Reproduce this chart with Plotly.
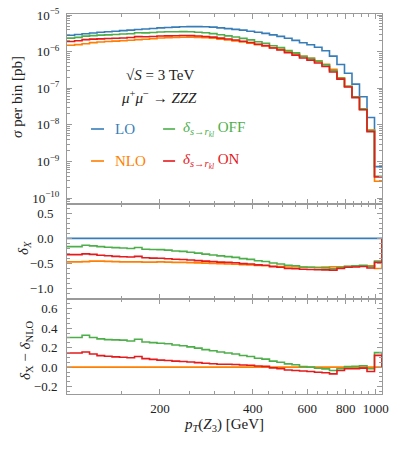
import plotly.graph_objects as go
from plotly.subplots import make_subplots

# pT(Z3) bin edges [GeV]
edges = [100.0, 105.8, 111.9, 118.3, 125.1, 132.3, 139.9, 148.0, 156.5, 165.5,
         175.0, 185.1, 195.7, 207.0, 218.9, 231.5, 244.8, 258.9, 273.8, 289.5,
         306.2, 323.8, 342.4, 362.1, 382.9, 405.0, 428.3, 452.9, 479.0, 506.5,
         535.8, 566.6, 599.2, 633.7, 670.1, 708.7, 749.4, 792.6, 838.2, 886.4,
         937.6, 991.5, 1048.6]

# LO cross section per bin [pb]
sigma_lo = [2.82e-6, 2.95e-6, 3.09e-6, 3.24e-6, 3.39e-6, 3.51e-6, 3.63e-6, 3.76e-6,
            3.89e-6, 4.03e-6, 4.17e-6, 4.32e-6, 4.47e-6, 4.57e-6, 4.68e-6, 4.79e-6,
            4.84e-6, 4.84e-6, 4.79e-6, 4.68e-6, 4.47e-6, 4.27e-6, 4.07e-6, 3.89e-6,
            3.63e-6, 3.39e-6, 3.16e-6, 2.88e-6, 2.63e-6, 2.34e-6, 2.04e-6, 1.75e-6,
            1.55e-6, 1.32e-6, 1.06e-6, 7.59e-7, 4.47e-7, 2.57e-7, 1.30e-7, 5.89e-8,
            1.60e-8, 7.24e-10]

# relative NLO correction delta_NLO
delta_nlo = [-0.470, -0.470, -0.465, -0.455, -0.455, -0.460, -0.465, -0.470, -0.470, -0.470,
             -0.475, -0.475, -0.470, -0.475, -0.480, -0.480, -0.485, -0.490, -0.495, -0.500,
             -0.505, -0.510, -0.515, -0.525, -0.530, -0.540, -0.545, -0.555, -0.560, -0.570,
             -0.570, -0.575, -0.575, -0.575, -0.570, -0.565, -0.565, -0.560, -0.555, -0.550,
             -0.545, -0.600]

# delta_X - delta_NLO for s->r_kl OFF / ON
diff_off = [0.305, 0.305, 0.328, 0.305, 0.290, 0.283, 0.280, 0.277, 0.268, 0.287,
            0.258, 0.252, 0.245, 0.240, 0.228, 0.220, 0.208, 0.195, 0.180, 0.168,
            0.156, 0.145, 0.135, 0.120, 0.110, 0.092, 0.082, 0.062, 0.050, 0.033,
            0.025, 0.005, 0.000, -0.012, -0.018, -0.035, -0.017, 0.005, 0.008, 0.015,
            -0.017, 0.149]
diff_on = [0.145, 0.145, 0.156, 0.135, 0.118, 0.112, 0.105, 0.102, 0.097, 0.110,
           0.087, 0.080, 0.072, 0.068, 0.062, 0.058, 0.052, 0.046, 0.040, 0.035,
           0.030, 0.030, 0.027, 0.022, 0.020, 0.012, 0.008, -0.008, -0.015, -0.030,
           -0.035, -0.040, -0.045, -0.052, -0.058, -0.069, -0.035, -0.017, -0.017, -0.010,
           -0.045, 0.121]

C_LO, C_NLO, C_OFF, C_ON = '#377eb8', '#ff7f00', '#4daf4a', '#e41a1c'
FONT = 'Liberation Serif, Times New Roman, DejaVu Serif, serif'
GRAY = '#9a9a9a'

delta_off = [a + b for a, b in zip(delta_nlo, diff_off)]
delta_on = [a + b for a, b in zip(delta_nlo, diff_on)]
sig_nlo = [s * (1 + d) for s, d in zip(sigma_lo, delta_nlo)]
sig_off = [s * (1 + d) for s, d in zip(sigma_lo, delta_off)]
sig_on = [s * (1 + d) for s, d in zip(sigma_lo, delta_on)]


def step(vals, close=False):
    x = list(edges)
    y = list(vals) + [vals[-1]]
    if close:
        x.append(edges[-1])
        y.append(0.0)
    return x, y


fig = make_subplots(rows=3, cols=1, shared_xaxes=True, vertical_spacing=0,
                    row_heights=[0.5, 0.25, 0.25])

# top panel
for vals, c in [(sigma_lo, C_LO), (sig_nlo, C_NLO), (sig_off, C_OFF), (sig_on, C_ON)]:
    x, y = step(vals)
    fig.add_trace(go.Scatter(x=x, y=y, mode='lines', line=dict(color=c, width=1.6, shape='hv'),
                             showlegend=False), row=1, col=1)

# middle panel
zeros = [0.0] * len(sigma_lo)
for vals, c in [(zeros, C_LO), (delta_nlo, C_NLO), (delta_off, C_OFF), (delta_on, C_ON)]:
    x, y = step(vals, close=True)
    fig.add_trace(go.Scatter(x=x, y=y, mode='lines', line=dict(color=c, width=1.6, shape='hv'),
                             showlegend=False), row=2, col=1)

# bottom panel
for vals, c in [(zeros, C_NLO), (diff_off, C_OFF), (diff_on, C_ON)]:
    x, y = step(vals, close=True)
    fig.add_trace(go.Scatter(x=x, y=y, mode='lines', line=dict(color=c, width=1.6, shape='hv'),
                             showlegend=False), row=3, col=1)

tickfont = dict(family=FONT, size=13, color='#222')
x_minor = [v for v in range(100, 1050, 50) if v % 200 != 0]
fig.update_xaxes(type='log', range=[2, 3.0206], showline=True, linecolor=GRAY, linewidth=1,
                 mirror='allticks', ticks='inside', ticklen=5, tickcolor=GRAY, automargin=False,
                 tickvals=[200, 400, 600, 800, 1000], ticktext=['200', '400', '600', '800', '1000'],
                 minor=dict(tickvals=x_minor, ticks='inside', ticklen=3, tickcolor=GRAY),
                 showgrid=False, zeroline=False, tickfont=tickfont, ticklabelstandoff=2,
                 ticklabeloverflow='allow')
fig.update_xaxes(showticklabels=False, row=1, col=1)
fig.update_xaxes(showticklabels=False, row=2, col=1)

y_minor_log = [m * 10.0 ** e for e in range(-11, -4) for m in range(2, 10)]
fig.update_yaxes(type='log', range=[-10.16, -4.97],
                 tickvals=[1e-10, 1e-9, 1e-8, 1e-7, 1e-6, 1e-5],
                 ticktext=['10<sup>−10</sup>', '10<sup>−9</sup>', '10<sup>−8</sup>',
                           '10<sup>−7</sup>', '10<sup>−6</sup>', '10<sup>−5</sup>'],
                 minor=dict(tickvals=y_minor_log, ticks='inside', ticklen=3, tickcolor=GRAY),
                 ticklabelstandoff=4, row=1, col=1)
fig.update_yaxes(range=[-1.21, 0.686], tickvals=[-1.0, -0.5, 0.0, 0.5], tickformat='.1f',
                 minor=dict(dtick=0.1, ticks='inside', ticklen=3, tickcolor=GRAY),
                 ticklabelstandoff=10, row=2, col=1)
fig.update_yaxes(range=[-0.276, 0.70], tickvals=[-0.2, 0.0, 0.2, 0.4, 0.6], tickformat='.1f',
                 minor=dict(dtick=0.05, ticks='inside', ticklen=3, tickcolor=GRAY),
                 ticklabelstandoff=6, row=3, col=1)
fig.update_yaxes(showline=True, linecolor=GRAY, linewidth=1, mirror='allticks', ticks='inside',
                 ticklen=5, tickcolor=GRAY, showgrid=False, zeroline=False, tickfont=tickfont,
                 automargin=False, ticklabeloverflow='allow')

# plot area in window pixels
L, R, T, B = 67, 381.7, 14, 394
W, H = 399, 449


def px(xp):
    return (xp - L) / (R - L)


def py(yp):
    return (B - yp) / (B - T)


tfont = dict(family=FONT, size=15, color='#222')
ann = [
    dict(x=px(160), y=py(75), text='√<i>S</i> = 3 TeV', font=tfont),
    dict(x=px(159), y=py(97), text='<i>μ</i><sup>+</sup><i>μ</i><sup>−</sup> → <i>ZZZ</i>', font=tfont),
    dict(x=px(113), y=py(129), text='LO', xanchor='left', font=dict(family=FONT, size=15, color=C_LO)),
    dict(x=px(113), y=py(161), text='NLO', xanchor='left', font=dict(family=FONT, size=15, color=C_NLO)),
    dict(x=px(181), y=py(129), xanchor='left', font=dict(family=FONT, size=15, color=C_OFF),
         text='<i>δ</i><sub><i>s</i>→<i>r</i><sub><i>kl</i></sub></sub> OFF'),
    dict(x=px(181), y=py(161), xanchor='left', font=dict(family=FONT, size=15, color=C_ON),
         text='<i>δ</i><sub><i>s</i>→<i>r</i><sub><i>kl</i></sub></sub> ON'),
    dict(x=px(17), y=py(97), text='<i>σ</i> per bin [pb]', textangle=-90, font=tfont),
    dict(x=px(24), y=py(248), text='<i>δ</i><sub><i>X</i></sub>', textangle=-90, font=tfont),
    dict(x=px(26), y=py(350), text='<i>δ</i><sub>X</sub> − <i>δ</i><sub>NLO</sub>', textangle=-90, font=tfont),
    dict(x=px(224), y=py(425), text='<i>p</i><sub><i>T</i></sub>(<i>Z</i><sub>3</sub>) [GeV]', font=tfont),
]
for a in ann:
    a.setdefault('xanchor', 'center')
    fig.add_annotation(xref='paper', yref='paper', showarrow=False, yanchor='middle', **a)

for yrow, c in [(129, C_LO), (161, C_NLO)]:
    fig.add_shape(type='line', xref='paper', yref='paper', x0=px(91), x1=px(104),
                  y0=py(yrow), y1=py(yrow), line=dict(color=c, width=1.6))
for yrow, c in [(129, C_OFF), (161, C_ON)]:
    fig.add_shape(type='line', xref='paper', yref='paper', x0=px(163), x1=px(175),
                  y0=py(yrow), y1=py(yrow), line=dict(color=c, width=1.6))

fig.update_layout(width=W, height=H, paper_bgcolor='white', plot_bgcolor='white',
                  margin=dict(l=L, r=W - R, t=T, b=H - B, autoexpand=False),
                  showlegend=False, font=dict(family=FONT))

# drop the default page margin so the figure sits at the window origin
fig.write_html("out.html", config={'displayModeBar': False},
               post_script="document.body.style.margin='0px';")
